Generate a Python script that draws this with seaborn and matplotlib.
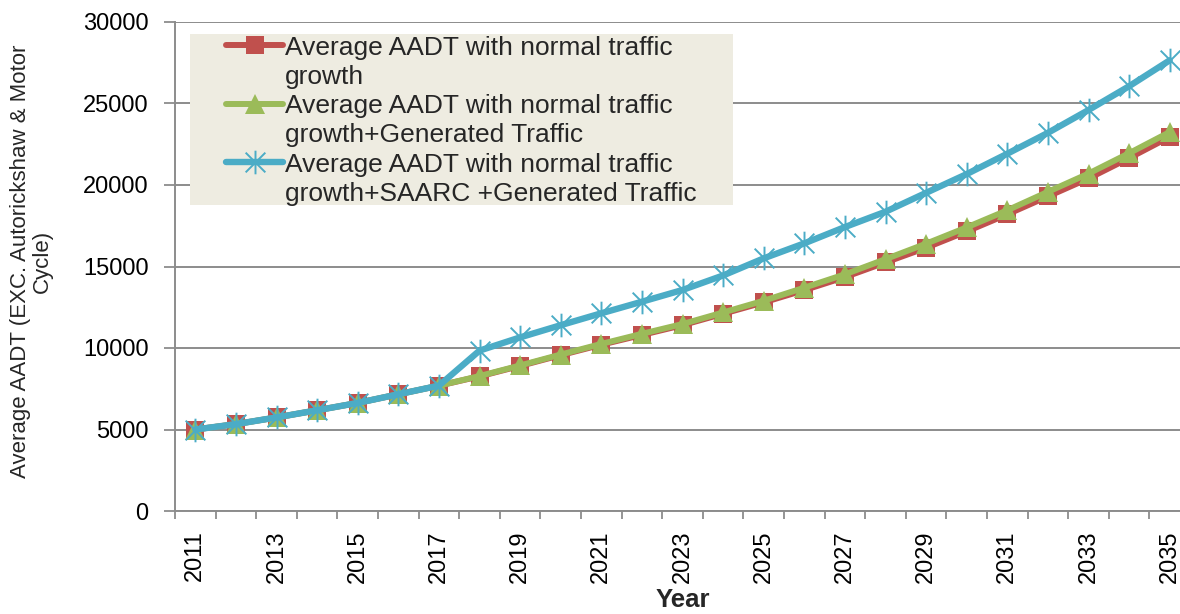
import matplotlib
matplotlib.use("Agg")
import matplotlib.pyplot as plt
from matplotlib.lines import Line2D
from matplotlib.patches import Rectangle
from matplotlib.path import Path
from matplotlib.ticker import FixedLocator, MultipleLocator
import seaborn as sns

# Average AADT forecasts by year
years = list(range(2011, 2036))
normal_growth = [5000, 5330, 5740, 6180, 6630, 7160, 7690, 8260, 8900, 9560,
                 10200, 10800, 11400, 12100, 12800, 13550, 14350, 15250, 16150,
                 17150, 18200, 19300, 20400, 21650, 22950]
normal_generated = [5000, 5330, 5740, 6180, 6630, 7160, 7690, 8280, 8930, 9600,
                    10250, 10870, 11470, 12180, 12900, 13700, 14520, 15450, 16400,
                    17400, 18450, 19580, 20700, 21950, 23250]
normal_saarc_generated = [5000, 5330, 5740, 6180, 6630, 7160, 7690, 9840, 10650, 11400,
                          12130, 12840, 13560, 14450, 15500, 16420, 17420, 18360, 19520,
                          20670, 21920, 23200, 24600, 26060, 27650]

series_labels = [
    ("Average AADT with normal traffic", "growth"),
    ("Average AADT with normal traffic", "growth+Generated Traffic"),
    ("Average AADT with normal traffic", "growth+SAARC +Generated Traffic"),
]
x_tick_labels = [str(y) for y in years[::2]]
y_ticks = [0, 5000, 10000, 15000, 20000, 25000, 30000]

RED = "#C0504D"
GREEN = "#9BBB59"
BLUE = "#4BACC6"
GRID = "#8C8C8C"

sns.set_style("white")
plt.rcParams["font.family"] = ["Liberation Sans", "DejaVu Sans"]

fig = plt.figure(figsize=(11.8, 6.14), dpi=100)
ax = fig.add_axes([175 / 1180, 103 / 614, 1015 / 1180, 489 / 614])

# asterisk marker: an X crossed by a vertical stroke
star_path = Path(
    [(-1, -1), (1, 1), (-1, 1), (1, -1), (0, -1.2), (0, 1.2)],
    [Path.MOVETO, Path.LINETO, Path.MOVETO, Path.LINETO, Path.MOVETO, Path.LINETO],
)

sns.lineplot(x=years, y=normal_growth, ax=ax, color=RED, linewidth=4.3,
             marker="s", markersize=13, markerfacecolor=RED, markeredgecolor=RED,
             markeredgewidth=0, zorder=3)
sns.lineplot(x=years, y=normal_generated, ax=ax, color=GREEN, linewidth=4.3,
             marker="^", markersize=14, markerfacecolor=GREEN, markeredgecolor=GREEN,
             markeredgewidth=0, zorder=4)
sns.lineplot(x=years, y=normal_saarc_generated, ax=ax, color=BLUE, linewidth=4.6,
             marker=star_path, markersize=17, markerfacecolor="none",
             markeredgecolor=BLUE, markeredgewidth=1.4, zorder=5)

series_lines = ax.get_lines()[:3]

# axes styling
ax.set_xlim(2010.5, 2035.5)
ax.set_ylim(0, 30000)
ax.yaxis.set_major_locator(FixedLocator(y_ticks))
ax.set_yticklabels([str(v) for v in y_ticks])
ax.set_xticks(years[::2])
ax.set_xticklabels(x_tick_labels, rotation=90)
ax.xaxis.set_minor_locator(MultipleLocator(1, offset=0.5))
ax.tick_params(axis="x", which="major", length=0, pad=14, labelsize=17, colors="black")
ax.tick_params(axis="x", which="minor", length=6, width=1.3, color=GRID, direction="out")
ax.tick_params(axis="y", which="major", length=8, width=1.3, color=GRID, direction="out",
               pad=11, labelsize=17, labelcolor="black")
ax.tick_params(bottom=True, left=True, which="both")

ax.grid(axis="y", color=GRID, linewidth=1.4)
ax.grid(axis="x", visible=False)
ax.set_axisbelow(True)
for side in ("top", "right"):
    ax.spines[side].set_visible(False)
for side in ("left", "bottom"):
    ax.spines[side].set_color(GRID)
    ax.spines[side].set_linewidth(1.4)

ax.set_xlabel("Year", fontsize=18.5, fontweight="bold", va="center")
ax.xaxis.set_label_coords(0.5, -0.182)
ax.set_ylabel("Average AADT (EXC. Autorickshaw & Motor\nCycle)", fontsize=16,
              va="center", ha="center", linespacing=1.05)
ax.yaxis.set_label_coords(-0.141, 0.51)

# legend: one row per text line, handles only on the first line of each entry
blank = Line2D([], [], color="none")
handles, labels = [], []
for line, (first, second) in zip(series_lines, series_labels):
    handles += [line, blank]
    labels += [first, second]

fig.add_artist(Rectangle((190 / 1180, 1 - 205 / 614), 543 / 1180, 171 / 614,
                         transform=fig.transFigure, facecolor="#EEECE1",
                         edgecolor="none", zorder=4))
leg = fig.legend(handles, labels, loc="upper left",
                 bbox_to_anchor=(226 / 1180, 1 - 35.5 / 614),
                 bbox_transform=fig.transFigure, frameon=False, fontsize=19,
                 handlelength=2.16, handletextpad=0.08, borderpad=0,
                 borderaxespad=0, labelspacing=0.2)
leg.set_zorder(6)

fig.savefig("out.png", dpi=100)
